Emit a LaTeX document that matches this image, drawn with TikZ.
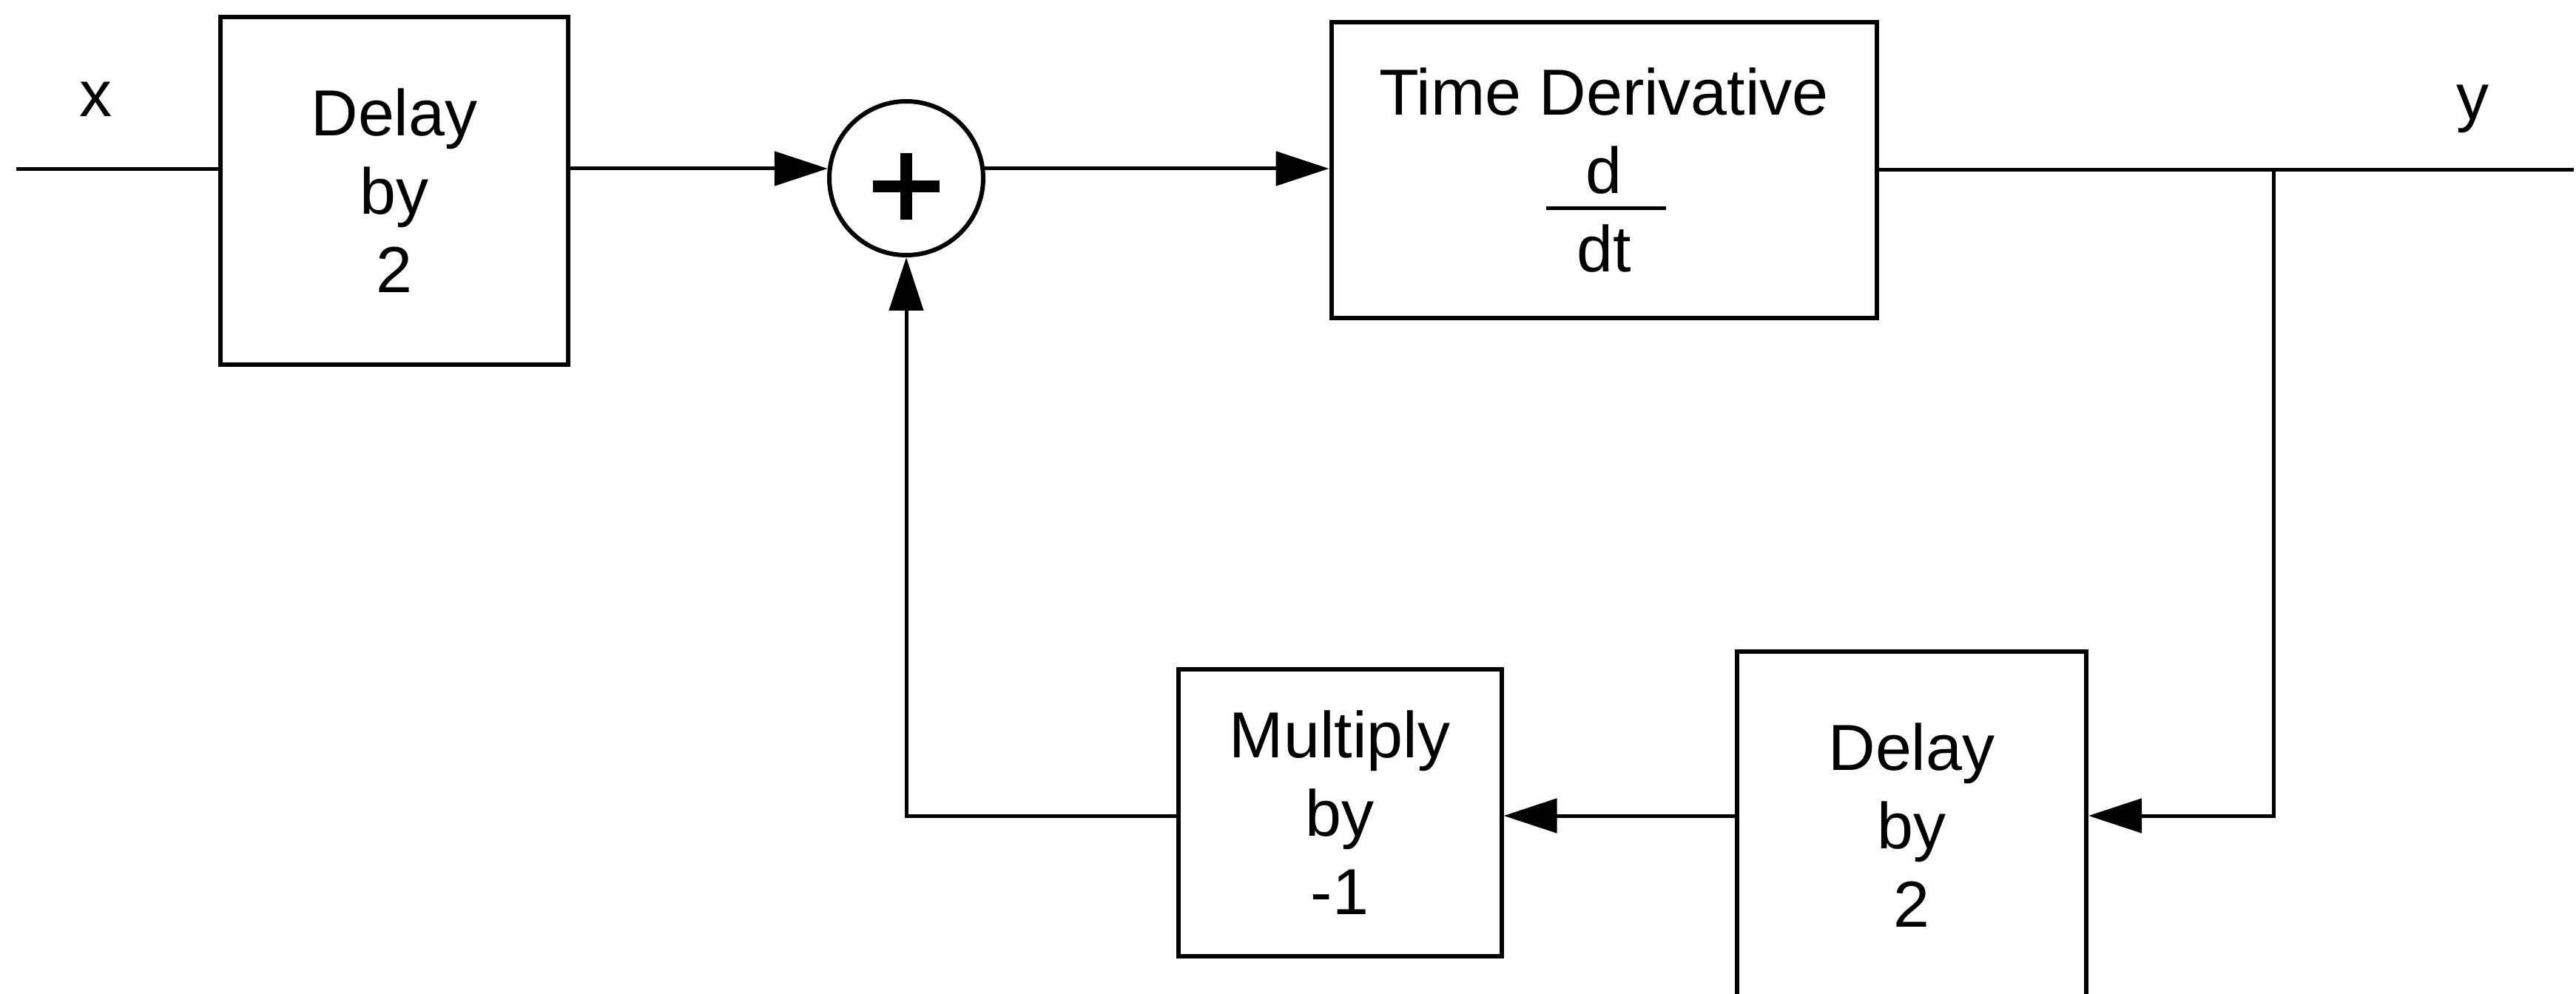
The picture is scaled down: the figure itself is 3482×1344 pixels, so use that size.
\documentclass[tikz,border=0pt]{standalone}
\usepackage{fontspec}
\setmainfont{Liberation Sans}
\usetikzlibrary{arrows.meta}
\begin{document}
\begin{tikzpicture}[x=0.2pt,y=-0.2pt,
  blk/.style={draw,line width=1.2pt,inner sep=0pt,align=center,
    font=\fontsize{17.6}{21.2}\selectfont},
  sumnode/.style={draw,circle,line width=1.2pt,inner sep=0pt,minimum size=41.6pt},
  wire/.style={line width=1pt},
  arr/.style={wire,-{Triangle[length=14.4pt,width=9.2pt]}},
  lbl/.style={anchor=base,inner sep=0pt,font=\fontsize{17.6}{21.2}\selectfont}]
\useasboundingbox (0,0) rectangle (3482,1344);
\clip (0,0) rectangle (3482,1344);
% blocks
\node[blk,minimum width=93.8pt,minimum height=94pt] (d1) at (533,258) {Delay\\by\\2};
\node[sumnode] (sum) at (1225,241) {};
\node[blk,minimum width=147.4pt,minimum height=80pt] (td) at (2168,230) {Time Derivative\\d\\dt};
\node[blk,minimum width=87.4pt,minimum height=77.6pt] (mul) at (1811,1099) {Multiply\\by\\-1};
\node[blk,minimum width=94.4pt,minimum height=94pt] (d2) at (2584,1116) {Delay\\by\\2};
% plus sign and fraction bar
\draw[line width=3.2pt] ([shift={(-45,11)}]sum.center) -- ([shift={(45,11)}]sum.center);
\draw[line width=3.2pt] ([shift={(0,-34)}]sum.center) -- ([shift={(0,56)}]sum.center);
\draw[line width=1pt] ([shift={(-78,52)}]td.center) -- ([shift={(84,52)}]td.center);
% labels
\node[lbl] (xl) at (129,158) {x};
\node[lbl] (yl) at (3342,162) {y};
% coordinates
\coordinate (in) at (22,229);
\coordinate (out) at (3479,230);
\coordinate (br) at (3073,230);
\coordinate (fbr) at (3073,1103);
% connectors
\draw[wire] (in) -- (in -| d1.west);
\draw[arr] (sum.173 -| d1.east) -- (sum.173);
\draw[arr] (sum.7) -- (sum.7 -| td.west);
\draw[wire] (td.east) -- (out);
\draw[arr] (br) -- (fbr) -- (fbr -| d2.east);
\draw[arr] (fbr -| d2.west) -- (fbr -| mul.east);
\draw[arr] (fbr -| mul.west) -| (sum.south);
\end{tikzpicture}
\end{document}
